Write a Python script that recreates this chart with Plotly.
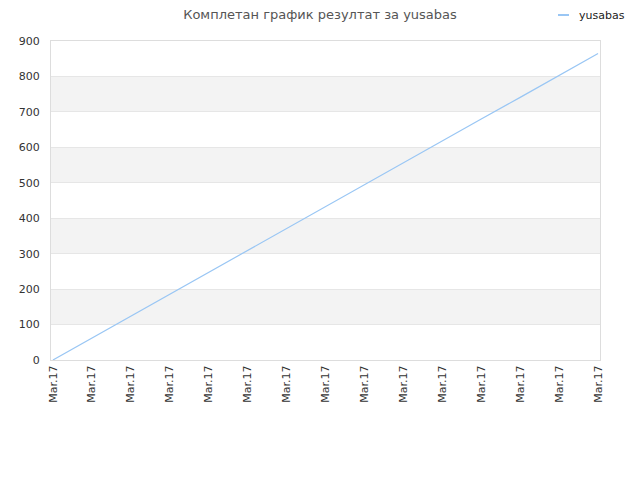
import plotly.graph_objects as go

# data (one point per x tick)
tick_labels = ["Mar.17"] * 15
x_idx = list(range(15))
scores = [0, 62, 124, 185, 247, 309, 371, 432, 494, 556, 618, 680, 741, 803, 865]
bands = [(100, 200), (300, 400), (500, 600), (700, 800)]
series_name = "yusabas"
line_color = "#99c6f4"

fig = go.Figure()

fig.add_trace(go.Scatter(
    x=x_idx, y=scores,
    mode="lines",
    name=series_name,
    line=dict(color=line_color, width=1.2),
    showlegend=False,
))

for lo, hi in bands:
    fig.add_shape(type="rect", xref="paper", yref="y", x0=0, x1=1, y0=lo, y1=hi,
                  fillcolor="#f3f3f3", line_width=0, layer="below")

# small legend in the top-right corner
fig.add_shape(type="line", xref="paper", yref="paper",
              x0=1.0 - 42 / 549, x1=1.0 - 31 / 549, y0=1 + 26 / 319, y1=1 + 26 / 319,
              line=dict(color=line_color, width=2))
fig.add_annotation(text=series_name, xref="paper", yref="paper",
                   x=1.0 - 23 / 549, y=1 + 26 / 319, xanchor="left", yanchor="middle",
                   showarrow=False, font=dict(size=11, color="#222"))

# the page adds an 8px body margin, so the margins are shifted to compensate
fig.update_layout(
    width=640, height=480,
    margin=dict(l=43, r=48, t=33, b=128, autoexpand=False),
    paper_bgcolor="white",
    plot_bgcolor="white",
    font=dict(family="DejaVu Sans", size=11, color="#333"),
    title=dict(text="Комплетан график резултат за yusabas", x=(320 - 8) / 640, xanchor="center",
               y=1 - 2 / 480, yanchor="top", yref="container",
               font=dict(size=13, color="#555")),
    showlegend=False,
    xaxis=dict(
        tickmode="array", tickvals=x_idx, ticktext=tick_labels,
        tickangle=-90, range=[-0.05, 14.05],
        showgrid=False, zeroline=False,
        showline=True, linecolor="#ddd", mirror=True,
        ticks="", tickfont=dict(size=11, color="#333"),
    ),
    yaxis=dict(
        range=[0, 900], dtick=100,
        showgrid=True, gridcolor="#e6e6e6",
        zeroline=False,
        showline=True, linecolor="#ddd", mirror=True,
        ticks="", ticklabelstandoff=8, tickfont=dict(size=11, color="#333"),
    ),
)

fig.write_html("out.html")
